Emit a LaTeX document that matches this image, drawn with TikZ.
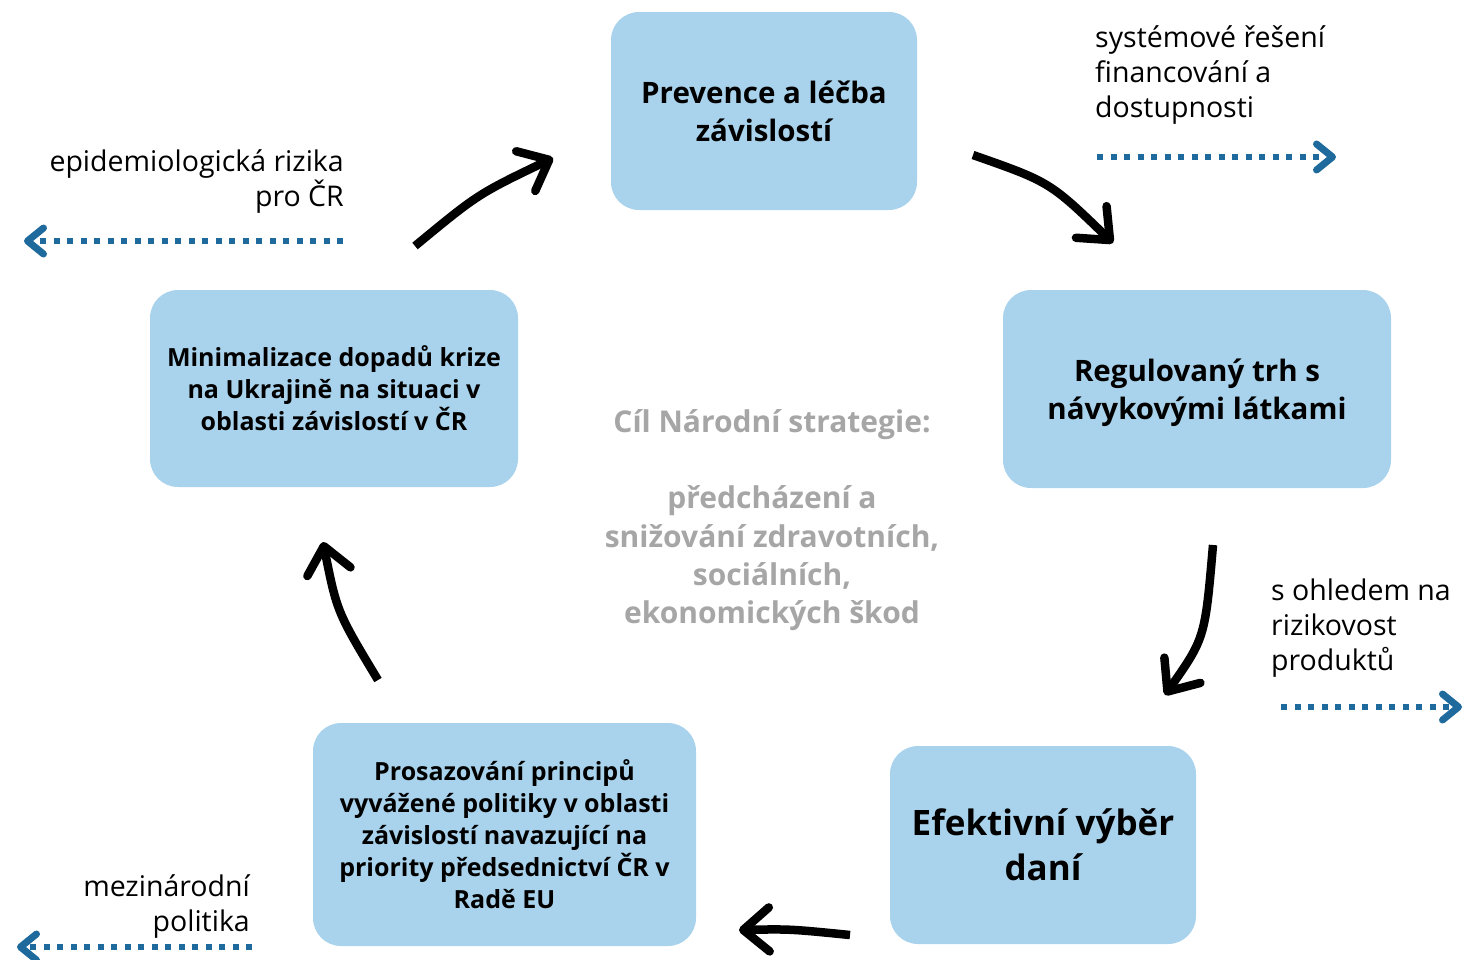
\documentclass[tikz,border=0pt]{standalone}
\usepackage{fontspec}
\setmainfont{Open Sans}
\usetikzlibrary{arrows.meta}
\definecolor{boxblue}{HTML}{A9D3EC}
\definecolor{dotblue}{HTML}{1F6A9C}
\definecolor{goalgray}{HTML}{A6A6A6}
\tikzset{
  boxnode/.style={fill=boxblue, draw=none, rounded corners=28pt, align=center, inner sep=0pt, font=\bfseries},
  cyclearrow/.style={line width=8.5pt, -{Straight Barb[length=26pt,width=44pt,line width=8.5pt,line cap=round,line join=round]}},
  dotarrow/.style={dotblue, line width=6pt, dash pattern=on 6pt off 7.5pt, -{Straight Barb[length=16pt,width=26pt,line width=7pt,line cap=round,line join=round]}},
  sidetext/.style={inner sep=0pt, font=\fontsize{28.5}{35}\selectfont}
}
\begin{document}
\begin{tikzpicture}[x=1pt,y=-1pt]
\useasboundingbox (0,0) rectangle (1467,959);

% boxes
\node[boxnode, minimum width=306pt, minimum height=198pt, font=\bfseries\fontsize{29.5}{38}\selectfont] (top) at (764,111) {Prevence a léčba\\závislostí};
\node[boxnode, minimum width=388pt, minimum height=198pt, font=\bfseries\fontsize{29.5}{38}\selectfont, text depth=0pt] (right) at (1197,389) {Regulovaný trh s\\návykovými látkami};
\node[boxnode, minimum width=306pt, minimum height=198pt, font=\bfseries\fontsize{35}{45}\selectfont] (br) at (1043,845) {Efektivní výběr\\daní};
\node[boxnode, minimum width=383pt, minimum height=223pt, font=\bfseries\fontsize{25}{32}\selectfont] (bl) at (504.5,834.5) {Prosazování principů\\vyvážené politiky v oblasti\\závislostí navazující na\\priority předsednictví ČR v\\Radě EU};
\node[boxnode, minimum width=368pt, minimum height=197pt, font=\bfseries\fontsize{25}{32}\selectfont] (left) at (334,388.5) {Minimalizace dopadů krize\\na Ukrajině na situaci v\\oblasti závislostí v ČR};

% goal
\node[align=center, inner sep=0pt, text=goalgray, font=\bfseries\fontsize{30}{38.3}\selectfont] (goal) at (772,520) {Cíl Národní strategie:\\[38.3pt]předcházení a\\snižování zdravotních,\\sociálních,\\ekonomických škod};

% cycle arrows
\coordinate (a1s) at (415,246); \coordinate (a1e) at (553,158);
\coordinate (a2s) at (973,155); \coordinate (a2e) at (1113,243);
\coordinate (a3s) at (1213,545); \coordinate (a3e) at (1165,695);
\coordinate (a4s) at (850,935); \coordinate (a4e) at (739,930);
\coordinate (a5s) at (378,680); \coordinate (a5e) at (323,542);
\draw[cyclearrow] (a1s) .. controls (478,194) .. (a1e);
\draw[cyclearrow] (a2s) .. controls (1050,182) .. (a2e);
\draw[cyclearrow] (a3s) .. controls (1205,638) .. (a3e);
\draw[cyclearrow] (a4s) .. controls (790,929) .. (a4e);
\draw[cyclearrow] (a5s) .. controls (337,612) .. (a5e);

% side texts
\node[sidetext, anchor=north west, align=left] (t1) at (1095,25) {systémové řešení\\financování a\\dostupnosti};
\node[sidetext, anchor=north east, align=right] (t2) at (344,149) {epidemiologická rizika\\pro ČR};
\node[sidetext, anchor=north west, align=left] (t3) at (1271,579) {s ohledem na\\rizikovost\\produktů};
\node[sidetext, anchor=north east, align=right] (t4) at (250,874) {mezinárodní\\politika};

% dotted arrows
\coordinate (d1s) at (1097,157); \coordinate (d1e) at (1336,157);
\coordinate (d2s) at (343,241); \coordinate (d2e) at (24,241);
\coordinate (d3s) at (1281,707); \coordinate (d3e) at (1462,707);
\coordinate (d4s) at (252,947); \coordinate (d4e) at (17,947);
\draw[dotarrow] (d1s) -- (d1e);
\draw[dotarrow] (d2s) -- (d2e);
\draw[dotarrow] (d3s) -- (d3e);
\draw[dotarrow] (d4s) -- (d4e);
\end{tikzpicture}
\end{document}
